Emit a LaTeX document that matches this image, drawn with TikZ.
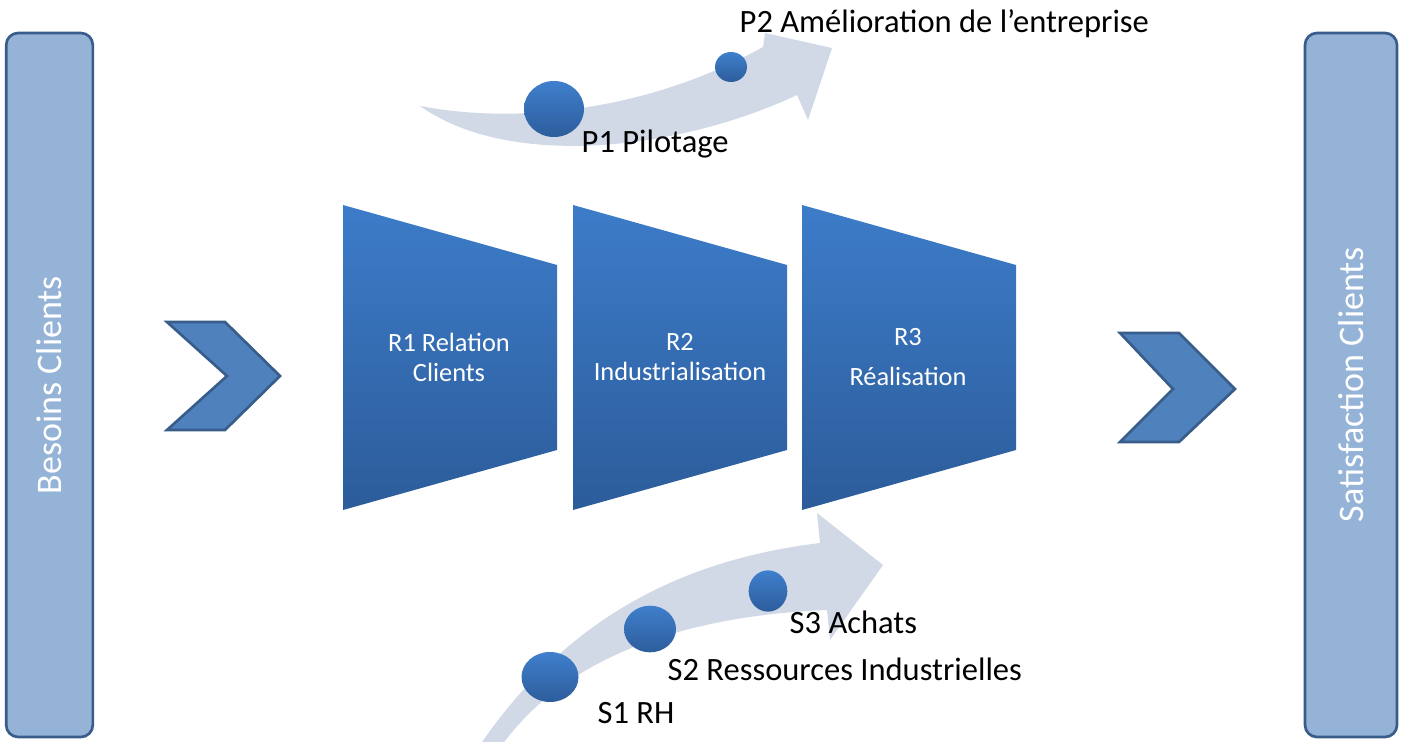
\documentclass[tikz,border=0pt]{standalone}
\usepackage{fontspec}
\setmainfont{Carlito}
\usetikzlibrary{shapes.geometric}

\definecolor{barfill}{HTML}{95B3D7}
\definecolor{barline}{HTML}{385D8A}
\definecolor{chevfill}{HTML}{4F81BD}
\definecolor{traptop}{HTML}{3D7CC9}
\definecolor{trapbot}{HTML}{2C5C9A}
\definecolor{flowfill}{HTML}{D1D9E7}
\definecolor{dottop}{HTML}{3F7FCC}
\definecolor{dotbot}{HTML}{2D5D9C}

\begin{document}
\begin{tikzpicture}[x=0.75pt,y=-0.75pt]
    % Define basic styles
    \tikzset{
        sidebar/.style={
            rectangle,
            rounded corners=9pt,
            draw=barline,
            line width=2pt,
            fill=barfill,
            rotate=90,
            minimum width=528pt,
            text=white,
            font=\fontsize{27}{30}\selectfont
        },
        chevron/.style={draw=barline, line width=2pt, fill=chevfill},
        funnel/.style={top color=traptop, bottom color=trapbot},
        funneltext/.style={text=white, align=center, font=\fontsize{19.8}{22.5}\selectfont},
        flow/.style={fill=flowfill},
        dot/.style={ellipse, top color=dottop, bottom color=dotbot, inner sep=0pt},
        steplabel/.style={anchor=base west, font=\fontsize{24.4}{29}\selectfont}
    }

    \clip (0,0) rectangle (1410,742);
    \fill[white] (0,0) rectangle (1410,742);

    % Customer bars
    \node[sidebar, minimum height=65pt] (besoins) at (49.5,385) {Besoins Clients};
    \node[sidebar, minimum height=69pt] (satisfaction) at (1351,385) {Satisfaction Clients};

    % Chevrons
    \draw[chevron] (167,322) -- (225,322) -- (280,376) -- (225,430) -- (167,430) -- (227,376) -- cycle;
    \draw[chevron] (1120,333) -- (1179,333) -- (1235,389) -- (1179,442) -- (1120,442) -- (1173,389) -- cycle;

    % Realisation processes
    \foreach \x in {343,573,802}
        \shade[funnel] (\x,205) -- (\x+214,265) -- (\x+214,450) -- (\x,510) -- cycle;
    \node[funneltext] (relation) at (449,357) {R1 Relation\\Clients};
    \node[funneltext] (indus) at (680,357) {R2\\Industrialisation};
    \node[funneltext] (real) at (908,357) {R3\\[8pt]Réalisation};

    % Pilotage arrow
    \fill[flow] (420,106) .. controls (520,125) and (650,110) .. (763,47) -- (765,33) -- (832,48)
        -- (808,120) -- (797,95) .. controls (680,150) and (510,170) .. (420,106) -- cycle;
    \node[dot, minimum width=45pt, minimum height=42pt] (p1) at (554,109) {};
    \node[dot, minimum width=24pt, minimum height=22.5pt] (p2) at (731,67) {};
    \node[steplabel] (pilotage) at (577,152) {P1 Pilotage};
    \node[steplabel] (amelioration) at (735,33) {P2 Amélioration de l’entreprise};

    % Support arrow
    \fill[flow] (470,760) .. controls (560,620) and (680,560) .. (820,543) -- (817,513) -- (883,565)
        -- (830,640) -- (827,610) .. controls (700,615) and (560,650) .. (492,760) -- cycle;
    \node[dot, minimum width=42.75pt, minimum height=37.5pt] (s1) at (550,677) {};
    \node[dot, minimum width=39pt, minimum height=35pt] (s2) at (650,629) {};
    \node[dot, minimum width=29pt, minimum height=31pt] (s3) at (768,591) {};
    \node[steplabel] (rh) at (593,723) {S1 RH};
    \node[steplabel] (ressources) at (663,680) {S2 Ressources Industrielles};
    \node[steplabel] (achats) at (785,633) {S3 Achats};
\end{tikzpicture}
\end{document}
